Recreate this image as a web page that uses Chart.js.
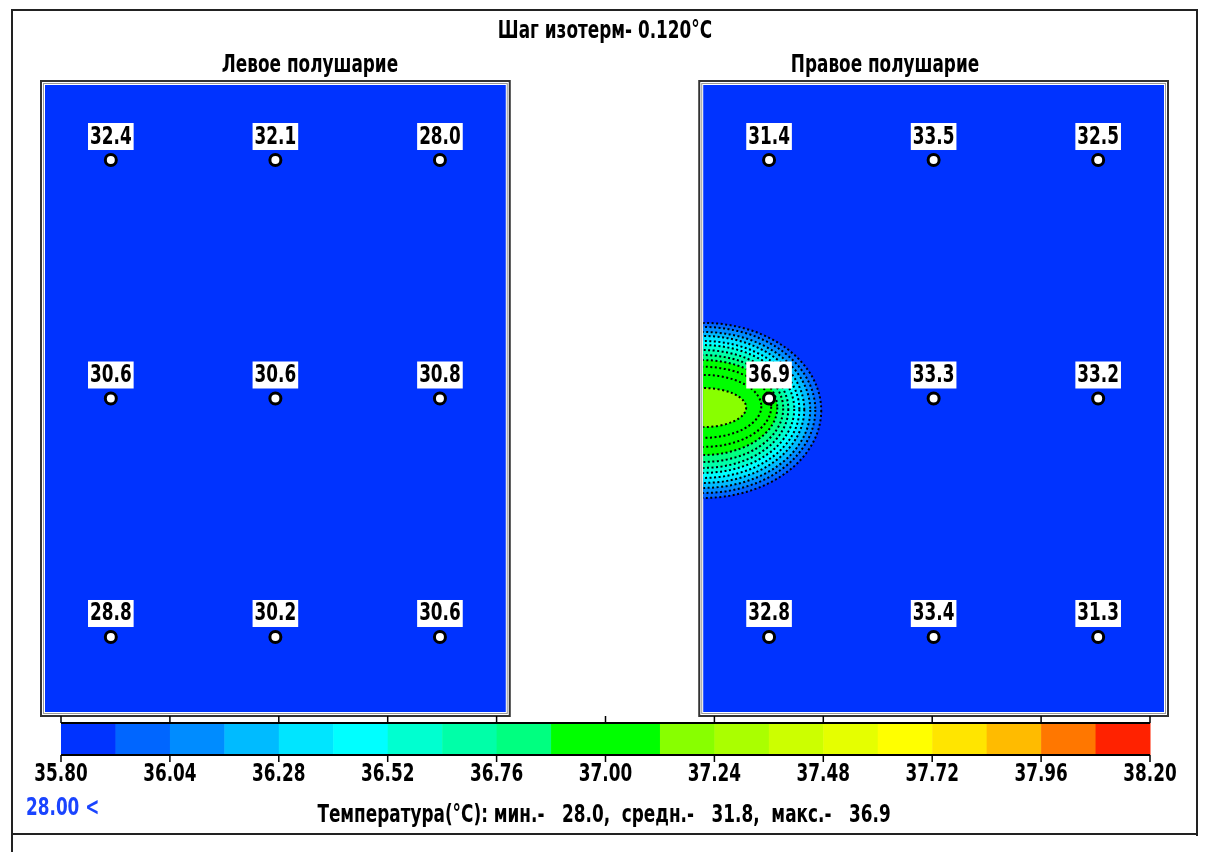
<!DOCTYPE html>
<html>
<head>
<meta charset="utf-8">
<script src="https://cdn.jsdelivr.net/npm/chart.js@4.4.1/dist/chart.umd.min.js"></script>
<style>
  body { margin: 0; background: #fff; }
  canvas { display: block; }
</style>
</head>
<body>
<canvas id="thermo" width="1211" height="852"></canvas>
<script>
// sensor grid: columns (left hemisphere 0..2, right 4..6), rows 0..2
const leftCols = [0, 1, 2];
const rightCols = [4, 5, 6];
const rows = [0, 1, 2];
const leftTemps = [
    [32.4, 32.1, 28.0],
    [30.6, 30.6, 30.8],
    [28.8, 30.2, 30.6]
];
const rightTemps = [
    [31.4, 33.5, 32.5],
    [36.9, 33.3, 33.2],
    [32.8, 33.4, 31.3]
];

// colour scale (step 0.12 °C)
const scaleColors = [
    "#0033ff", "#0066ff", "#008cff", "#00bbff", "#00e5ff",
    "#00ffff", "#00ffd0", "#00ffa8", "#00ff80", "#00ff00",
    "#00ff00", "#88ff00", "#aaff00", "#ccff00", "#e5ff00",
    "#ffff00", "#ffe500", "#ffbb00", "#ff7700", "#ff2200"
];
const scaleTicks = ["35.80", "36.04", "36.28", "36.52", "36.76", "37.00",
    "37.24", "37.48", "37.72", "37.96", "38.20"];

// isotherms of the hot spot on the right hemisphere (outer -> inner)
const isoCx = 3.6;
const isoCy = [1.050, 1.048, 1.048, 1.046, 1.046, 1.044, 1.044, 1.042, 1.038, 1.035, 1.033, 1.038];
const isoRx = [0.717, 0.681, 0.650, 0.614, 0.584, 0.553, 0.517, 0.486, 0.450, 0.413, 0.353, 0.261];
const isoRy = [0.367, 0.348, 0.327, 0.308, 0.287, 0.268, 0.247, 0.224, 0.199, 0.168, 0.132, 0.082];
const isoBand = [1, 2, 3, 4, 5, 6, 7, 8, 9, 10, 10, 11];

const title = "Шаг изотерм- 0.120°C";
const leftTitle = "Левое полушарие";
const rightTitle = "Правое полушарие";
const statsText = "Температура(°C): мин.-   28.0,  средн.-   31.8,  макс.-   36.9";
const cursorText = "28.00 <";

const FONT = "bold 25px \"DejaVu Sans Condensed\", \"DejaVu Sans\", sans-serif";
const SX = 0.75; // narrow the glyphs like the original bitmap font
const BLUE = scaleColors[0];

function gridPoints(cols, temps) {
    let pts = [];
    rows.forEach((r, i) => cols.forEach((c, j) => pts.push({x: c, y: r, t: temps[i][j]})));
    return pts;
}

function drawText(ctx, txt, x, y, align) {
    ctx.save();
    ctx.translate(x, y);
    ctx.scale(SX, 1);
    ctx.textAlign = align || "center";
    ctx.textBaseline = "middle";
    ctx.fillText(txt, 0, 0);
    ctx.restore();
}

const panels = [
    {cols: leftCols, label: leftTitle, labelX: 310},
    {cols: rightCols, label: rightTitle, labelX: 885}
];

function panelRect(chart, cols) {
    const xs = chart.scales.x, area = chart.chartArea;
    return {
        l: xs.getPixelForValue(cols[0] - 0.4),
        r: xs.getPixelForValue(cols[cols.length - 1] + 0.4),
        t: area.top,
        b: area.bottom
    };
}

const backgroundPlugin = {
    id: "background",
    beforeDatasetsDraw(chart) {
        const ctx = chart.ctx;
        const xs = chart.scales.x, ys = chart.scales.y;
        ctx.save();
        ctx.font = FONT;
        // outer frame
        ctx.strokeStyle = "#222";
        ctx.lineWidth = 2;
        ctx.beginPath();
        ctx.moveTo(12, 852); ctx.lineTo(12, 10); ctx.lineTo(1197, 10); ctx.lineTo(1197, 836);
        ctx.moveTo(12, 834); ctx.lineTo(1197, 834);
        ctx.stroke();

        ctx.fillStyle = "#000";
        drawText(ctx, title, 605, 31);

        panels.forEach(p => {
            const r = panelRect(chart, p.cols);
            ctx.fillStyle = BLUE;
            ctx.fillRect(r.l, r.t, r.r - r.l, r.b - r.t);
            ctx.strokeStyle = "#333";
            ctx.lineWidth = 2;
            ctx.strokeRect(r.l - 4, r.t - 4, r.r - r.l + 8, r.b - r.t + 8);
            ctx.strokeStyle = "#999";
            ctx.lineWidth = 1;
            ctx.strokeRect(r.l - 1.5, r.t - 1.5, r.r - r.l + 3, r.b - r.t + 3);
            ctx.fillStyle = "#000";
            drawText(ctx, p.label, p.labelX, 65);
        });

        // isotherm bands and lines, clipped to the right hemisphere
        const rr = panelRect(chart, rightCols);
        ctx.beginPath();
        ctx.rect(rr.l, rr.t, rr.r - rr.l, rr.b - rr.t);
        ctx.clip();
        const cx = xs.getPixelForValue(isoCx);
        const shape = (k) => {
            const cy = ys.getPixelForValue(isoCy[k]);
            const rx = xs.getPixelForValue(isoCx + isoRx[k]) - cx;
            const ry = ys.getPixelForValue(isoCy[k] + isoRy[k]) - cy;
            ctx.beginPath();
            ctx.ellipse(cx, cy, rx, ry, 0, 0, Math.PI * 2);
        };
        isoRx.forEach((_, k) => {
            shape(k);
            ctx.fillStyle = scaleColors[isoBand[k]];
            ctx.fill();
        });
        ctx.strokeStyle = "#000";
        ctx.lineWidth = 2;
        ctx.setLineDash([2, 2.5]);
        isoRx.forEach((_, k) => {
            shape(k);
            ctx.stroke();
        });
        ctx.restore();
    },
    afterDatasetsDraw(chart) {
        const ctx = chart.ctx;
        ctx.save();
        ctx.font = FONT;
        chart.data.datasets.forEach((ds, di) => {
            chart.getDatasetMeta(di).data.forEach((el, i) => {
                const txt = ds.data[i].t.toFixed(1);
                const w = ctx.measureText(txt).width * SX + 4;
                ctx.fillStyle = "#fff";
                ctx.fillRect(el.x - w / 2, el.y - 37, w, 27);
                ctx.fillStyle = "#000";
                drawText(ctx, txt, el.x, el.y - 23);
            });
        });

        // colour scale
        const x0 = 61, x1 = 1150, y0 = 723, y1 = 755;
        const bw = (x1 - x0) / scaleColors.length;
        scaleColors.forEach((c, i) => {
            ctx.fillStyle = c;
            ctx.fillRect(x0 + i * bw, y0, bw + 0.5, y1 - y0);
        });
        ctx.strokeStyle = "#000";
        ctx.lineWidth = 2;
        ctx.beginPath();
        ctx.moveTo(x0, y0); ctx.lineTo(x1, y0);
        ctx.moveTo(x0, y1); ctx.lineTo(x1, y1);
        ctx.stroke();
        ctx.lineWidth = 1.5;
        const tw = (x1 - x0) / (scaleTicks.length - 1);
        ctx.fillStyle = "#000";
        scaleTicks.forEach((t, i) => {
            const x = x0 + i * tw;
            ctx.beginPath();
            ctx.moveTo(x, 716); ctx.lineTo(x, y0);
            ctx.moveTo(x, y1); ctx.lineTo(x, 762);
            ctx.stroke();
            drawText(ctx, t, x, 774);
        });

        drawText(ctx, statsText, 604, 815);
        ctx.fillStyle = "#1a44ff";
        drawText(ctx, cursorText, 26, 808, "left");
        ctx.restore();
    }
};

new Chart(document.getElementById("thermo").getContext("2d"), {
    type: "scatter",
    data: {
        datasets: [
            {data: gridPoints(leftCols, leftTemps)},
            {data: gridPoints(rightCols, rightTemps)}
        ]
    },
    options: {
        responsive: false,
        animation: false,
        devicePixelRatio: 1,
        layout: {padding: {left: 45, right: 47, top: 85, bottom: 140}},
        elements: {
            point: {
                radius: 5.5,
                borderWidth: 3,
                borderColor: "#000",
                backgroundColor: "#fff"
            }
        },
        plugins: {legend: {display: false}, tooltip: {enabled: false}},
        scales: {
            x: {type: "linear", min: -0.4, max: 6.4, display: false},
            y: {type: "linear", min: -0.3145, max: 2.3145, reverse: true, display: false}
        }
    },
    plugins: [backgroundPlugin]
});
</script>
</body>
</html>
